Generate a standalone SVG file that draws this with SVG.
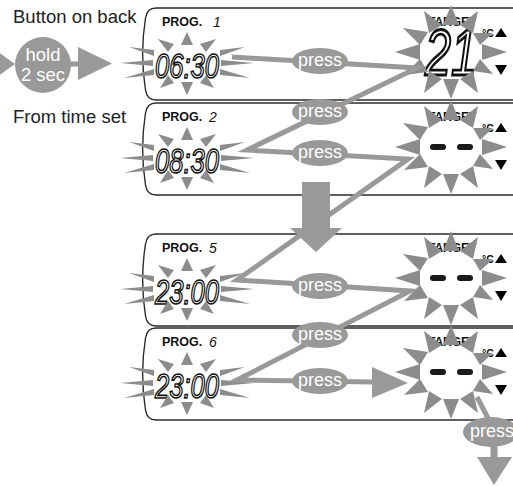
<svg xmlns="http://www.w3.org/2000/svg" width="513" height="486" viewBox="0 0 513 486">
<style>
.pl{fill:none;stroke:#2b2b2b;stroke-width:1.4}
.ray{fill:#8c8c8c}
.con{fill:none;stroke:#999;stroke-width:5;stroke-linejoin:miter;stroke-miterlimit:14}
.g{fill:#999}
.lbl{font-family:"Liberation Sans",Arial,sans-serif;font-size:18.5px;fill:#222}
.pt{font-family:"Liberation Sans",Arial,sans-serif;font-size:18px;fill:#fff;text-anchor:middle}
.ht{font-family:"Liberation Sans",Arial,sans-serif;font-size:18.5px;fill:#fff;text-anchor:middle}
.prog{font-family:"Liberation Sans",Arial,sans-serif;font-size:12.5px;font-weight:bold;fill:#111}
.tg{font-family:"Liberation Sans",Arial,sans-serif;font-size:12px;font-weight:bold;fill:#111}
.deg{font-family:"Liberation Sans",Arial,sans-serif;font-size:10.5px;font-weight:bold;fill:#111}
.pd{font-family:"Liberation Sans",Arial,sans-serif;font-size:14px;font-style:italic;fill:#111}
.td{font-family:"Liberation Sans",Arial,sans-serif;font-size:35px;font-style:italic;fill:#fff;stroke:#111;stroke-width:1.6;text-anchor:middle}
.big{font-family:"Liberation Sans",Arial,sans-serif;font-size:65px;font-style:italic;fill:#fff;stroke:#111;stroke-width:2.8;text-anchor:middle}
.tri{fill:#000}
.dash{fill:#1a1a1a}
</style>
<defs>
<g id="tb" class="ray">
<polygon points="-6,-19 0,-32 6,-19"/>
<polygon points="-6,18 0,31 6,18"/>
<polygon points="-13,-20 -29,-25 -19,-12"/>
<polygon points="13,-20 29,-25 19,-12"/>
<polygon points="-13,19 -27,24 -19,11"/>
<polygon points="13,19 27,24 19,11"/>
<polygon points="-33,-14 -58,-17 -33,-8"/>
<polygon points="-34,-4 -67,-1 -34,2"/>
<polygon points="-33,5 -63,14 -33,11"/>
<polygon points="33,-14 58,-17 33,-8"/>
<polygon points="34,-4 67,-1 34,2"/>
<polygon points="33,5 63,14 33,11"/>
</g>
<g id="pb" class="ray">
<polygon points="31,-8 56,0 31,8"/>
<polygon points="29,-7 42,-19 22,-19"/>
<polygon points="22,-19 27,-41 9,-27"/>
<polygon points="8,-27 0,-47 -8,-27"/>
<polygon points="-9,-27 -27,-41 -22,-19"/>
<polygon points="-23,-20 -48,-24 -31,-7"/>
<polygon points="-31,-8 -56,0 -31,8"/>
<polygon points="-31,7 -47,23 -23,20"/>
<polygon points="-22,19 -27,41 -9,27"/>
<polygon points="-8,27 0,47 8,27"/>
<polygon points="9,27 27,41 22,19"/>
<polygon points="22,19 42,22 29,7"/>
</g>
</defs>
<rect width="513" height="486" fill="#fff"/>

<g id="label-button-on-back"><text class="lbl" x="13" y="23">Button on back</text></g>
<g id="label-from-time-set"><text class="lbl" x="13" y="123">From time set</text></g>

<g id="panel-1">
<path class="pl" d="M513,8 H156 Q147,8 145.5,18 C142,40 142,68 145.5,90 Q147,100 156,100 H513"/>
<text class="prog" x="162" y="26">PROG.</text>
<text class="pd" x="213" y="27">1</text>
<text class="tg" x="428" y="26">TARGET</text>
<text class="deg" x="482" y="37">°C</text>
<polygon class="tri" points="495,37 501,28 507,37"/>
<polygon class="tri" points="495,65 507,65 501,75"/>
<text class="td" x="187" y="78" textLength="64" lengthAdjust="spacingAndGlyphs">06:30</text>
<use href="#tb" x="187" y="64"/>
<text class="big" x="451" y="75" textLength="52" lengthAdjust="spacingAndGlyphs">21</text>
<use href="#pb" x="451" y="52"/>
</g>

<g id="panel-2">
<path class="pl" d="M513,103 H156 Q147,103 145.5,113 C142,135 142,163 145.5,185 Q147,195 156,195 H513"/>
<text class="prog" x="162" y="121">PROG.</text>
<text class="pd" x="209" y="122">2</text>
<text class="tg" x="428" y="121">TARGET</text>
<text class="deg" x="482" y="132">°C</text>
<polygon class="tri" points="495,132 501,123 507,132"/>
<polygon class="tri" points="495,160 507,160 501,170"/>
<text class="td" x="187" y="173" textLength="64" lengthAdjust="spacingAndGlyphs">08:30</text>
<use href="#tb" x="187" y="159"/>
<rect class="dash" x="430" y="144" width="16" height="6" rx="3"/>
<rect class="dash" x="457" y="144" width="16" height="6" rx="3"/>
<use href="#pb" x="451" y="147"/>
</g>

<g id="panel-5">
<path class="pl" d="M513,234 H156 Q147,234 145.5,244 C142,266 142,294 145.5,316 Q147,326 156,326 H513"/>
<text class="prog" x="162" y="252">PROG.</text>
<text class="pd" x="209" y="253">5</text>
<text class="tg" x="428" y="252">TARGET</text>
<text class="deg" x="482" y="263">°C</text>
<polygon class="tri" points="495,263 501,254 507,263"/>
<polygon class="tri" points="495,291 507,291 501,301"/>
<text class="td" x="187" y="304" textLength="64" lengthAdjust="spacingAndGlyphs">23:00</text>
<use href="#tb" x="187" y="290"/>
<rect class="dash" x="430" y="275" width="16" height="6" rx="3"/>
<rect class="dash" x="457" y="275" width="16" height="6" rx="3"/>
<use href="#pb" x="451" y="278"/>
</g>

<g id="panel-6">
<path class="pl" d="M513,328 H156 Q147,328 145.5,338 C142,360 142,388 145.5,410 Q147,420 156,420 H513"/>
<text class="prog" x="162" y="346">PROG.</text>
<text class="pd" x="209" y="347">6</text>
<text class="tg" x="428" y="346">TARGET</text>
<text class="deg" x="482" y="357">°C</text>
<polygon class="tri" points="495,357 501,348 507,357"/>
<polygon class="tri" points="495,385 507,385 501,395"/>
<text class="td" x="187" y="398" textLength="64" lengthAdjust="spacingAndGlyphs">23:00</text>
<use href="#tb" x="187" y="384"/>
<rect class="dash" x="430" y="369" width="16" height="6" rx="3"/>
<rect class="dash" x="457" y="369" width="16" height="6" rx="3"/>
<use href="#pb" x="451" y="372"/>
</g>

<g id="connectors">
<polygon class="g" points="-10,46 15,64 -10,82"/>
<polygon class="g" points="68,61.5 78,61.5 78,47 112,63.5 78,80 78,66.5 68,66.5"/>
<polyline class="con" points="232,57 417,68 247,150 408,159 237,280 410,291 237,380 374,382"/>
<polygon class="g" points="372,367 408,383 372,398"/>
<line class="con" x1="477" y1="397" x2="489" y2="420"/>
<polygon class="g" points="490.5,445 497.5,445 497.5,457 512,457 494,485 477,457 490.5,457"/>
<polygon class="g" points="302,182 330,182 330,228 342,228 316,252 290,228 302,228"/>
</g>

<g id="node-hold"><circle class="g" cx="43" cy="65" r="28"/><text class="ht" x="43" y="61">hold</text><text class="ht" x="43" y="81">2 sec</text></g>
<g id="node-press-1"><ellipse class="g" cx="320" cy="61" rx="28" ry="13"/><text class="pt" x="320" y="66">press</text></g>
<g id="node-press-2"><ellipse class="g" cx="320" cy="112" rx="28" ry="13"/><text class="pt" x="320" y="117">press</text></g>
<g id="node-press-3"><ellipse class="g" cx="320" cy="153" rx="28" ry="13"/><text class="pt" x="320" y="158">press</text></g>
<g id="node-press-4"><ellipse class="g" cx="320" cy="286" rx="28" ry="13"/><text class="pt" x="320" y="291">press</text></g>
<g id="node-press-5"><ellipse class="g" cx="320" cy="335" rx="28" ry="13"/><text class="pt" x="320" y="340">press</text></g>
<g id="node-press-6"><ellipse class="g" cx="320" cy="381" rx="28" ry="13"/><text class="pt" x="320" y="386">press</text></g>
<g id="node-press-7"><ellipse class="g" cx="491" cy="432" rx="28" ry="15"/><text class="pt" x="492" y="437">press</text></g>
</svg>
